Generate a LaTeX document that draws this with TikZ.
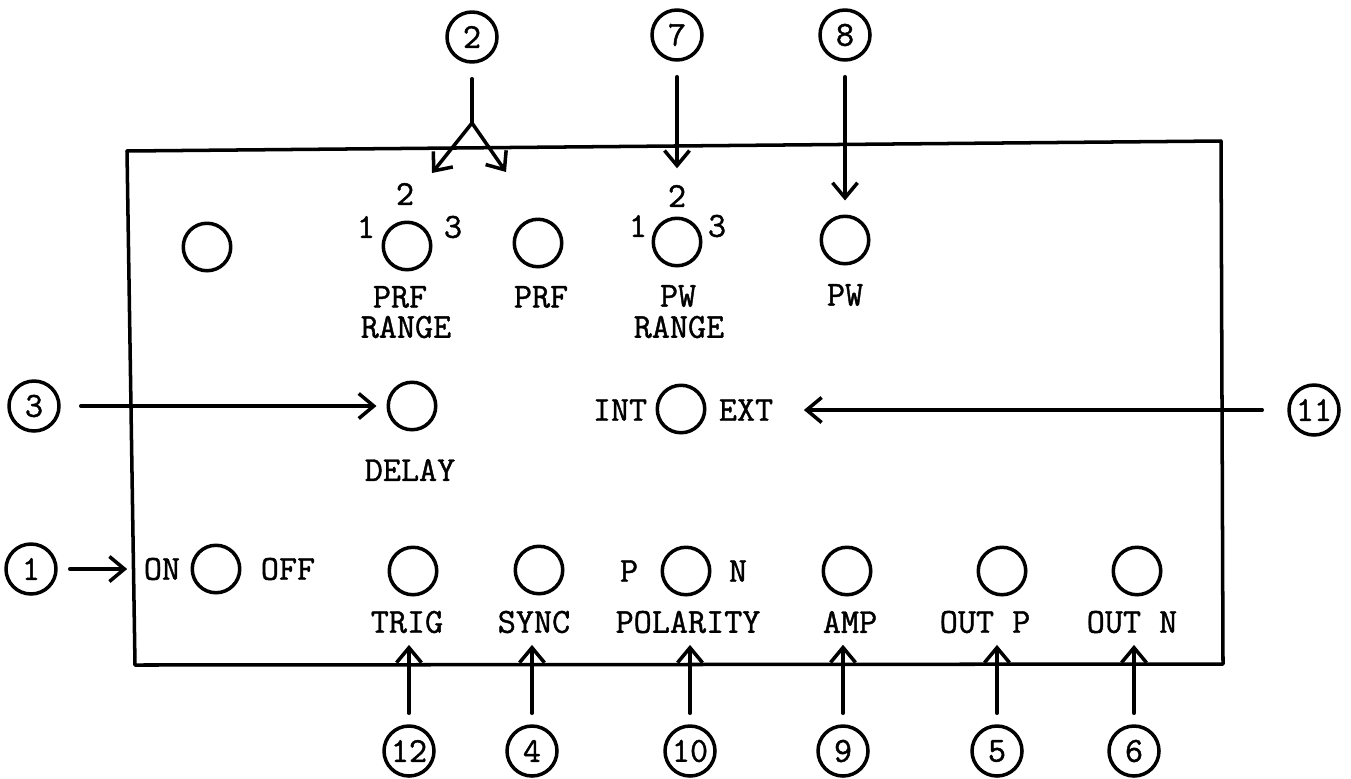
\documentclass[tikz,border=0pt]{standalone}
\usepackage{fontspec}
\setmonofont{Latin Modern Mono}[FakeBold=1.2]
\usetikzlibrary{arrows.meta}
\begin{document}
\begin{tikzpicture}[x=0.02cm,y=-0.02cm,line width=2pt,line join=round,line cap=round,
		>={Straight Barb[length=0.3cm,width=0.5cm]},
		font=\ttfamily\fontsize{20}{17}\selectfont,
		knob/.style={draw,circle,minimum size=0.95cm,inner sep=0pt},
		callout/.style={draw,circle,minimum size=1cm,inner sep=0pt},
		lbl/.style={inner sep=0pt},
		callarrow/.style={->,shorten <=0.22cm,shorten >=0.2cm}]
	\useasboundingbox (0,0) rectangle (1351,778);
	% panel
	\draw (127,151)--(1221,141)--(1223,664)--(135,665)--cycle;
	% top row
	\node[knob] (blank) at (207,247) {};
	\node[knob] (prfr) at (407,246) {};
	\node[lbl] (prfrone) at (366,227) {1};
	\node[lbl] (prfrtwo) at (405,194) {2};
	\node[lbl] (prfrthree) at (453,227) {3};
	\node[knob] (prf) at (538,243) {};
	\node[knob] (pwr) at (677,242) {};
	\node[lbl] (pwrone) at (638,226) {1};
	\node[lbl] (pwrtwo) at (677,196) {2};
	\node[lbl] (pwrthree) at (717,226) {3};
	\node[knob] (pw) at (845,240) {};
	\node[lbl] (prfrtxt) at (400,297) {PRF};
	\node[lbl] (prfrtxtb) at (406,327) {RANGE};
	\node[lbl] (prftxt) at (541,297) {PRF};
	\node[lbl] (pwrtxt) at (678,296) {PW};
	\node[lbl] (pwrtxtb) at (679,327) {RANGE};
	\node[lbl] (pwtxt) at (845,295) {PW};
	% middle row
	\node[knob] (delay) at (412,406) {};
	\node[lbl] (delaytxt) at (410,470) {DELAY};
	\node[knob] (intext) at (681,409) {};
	\node[lbl] (int) at (620,410) {INT};
	\node[lbl] (ext) at (746,410) {EXT};
	% bottom row
	\node[knob] (onoff) at (216,569) {};
	\node[lbl] (on) at (162,569) {ON};
	\node[lbl] (off) at (288,569) {OFF};
	\node[knob] (trig) at (413,571) {};
	\node[knob] (sync) at (539,570) {};
	\node[knob] (pol) at (686,571) {};
	\node[lbl] (p) at (629,571) {P};
	\node[lbl] (n) at (738,571) {N};
	\node[knob] (amp) at (847,571) {};
	\node[knob] (outp) at (1002,571) {};
	\node[knob] (outn) at (1137,571) {};
	\node[lbl] (trigtxt) at (407,622) {TRIG};
	\node[lbl] (synctxt) at (534,622) {SYNC};
	\node[lbl] (poltxt) at (688,622) {POLARITY};
	\node[lbl] (amptxt) at (850,622) {AMP};
	\node[lbl] (outptxt) at (985,622) {OUT P};
	\node[lbl] (outntxt) at (1132,622) {OUT N};
	% callouts
	\node[callout] (c2) at (472,37) {2};
	\node[callout] (c7) at (677,35) {7};
	\node[callout] (c8) at (845,35) {8};
	\node[callout] (c3) at (34,406) {3};
	\node[callout] (c1) at (31,569) {1};
	\node[callout] (c11) at (1314,410) {11};
	\node[callout] (c12) at (409,751) {12};
	\node[callout] (c4) at (532,751) {4};
	\node[callout] (c10) at (690,751) {10};
	\node[callout] (c9) at (843,751) {9};
	\node[callout] (c5) at (997,751) {5};
	\node[callout] (c6) at (1134,751) {6};
	% arrows
	\coordinate (fork) at (472,123);
	\coordinate (forkl) at (432,173);
	\coordinate (forkr) at (506,172);
	\draw[shorten <=0.3cm] (c2)--(fork);
	\draw[->] (fork)--(forkl);
	\draw[->] (fork)--(forkr);
	\draw[->,shorten <=0.3cm,shorten >=0.3cm] (c7)--(c7 |- pwrtwo.north);
	\draw[->,shorten <=0.3cm,shorten >=0.28cm] (c8)--(pw);
	\draw[->,shorten <=0.4cm,shorten >=0.2cm] (c3)--(delay);
	\draw[->,shorten <=0.5cm,shorten >=0.58cm] (c11)--(ext);
	\draw[->,shorten <=0.24cm,shorten >=0.3cm] (c1)--(on);
	\draw[callarrow] (c12)--(c12 |- trigtxt.south);
	\draw[callarrow] (c4)--(c4 |- synctxt.south);
	\draw[callarrow] (c10)--(c10 |- poltxt.south);
	\draw[callarrow] (c9)--(c9 |- amptxt.south);
	\draw[callarrow] (c5)--(c5 |- outptxt.south);
	\draw[callarrow] (c6)--(c6 |- outntxt.south);
\end{tikzpicture}
\end{document}
